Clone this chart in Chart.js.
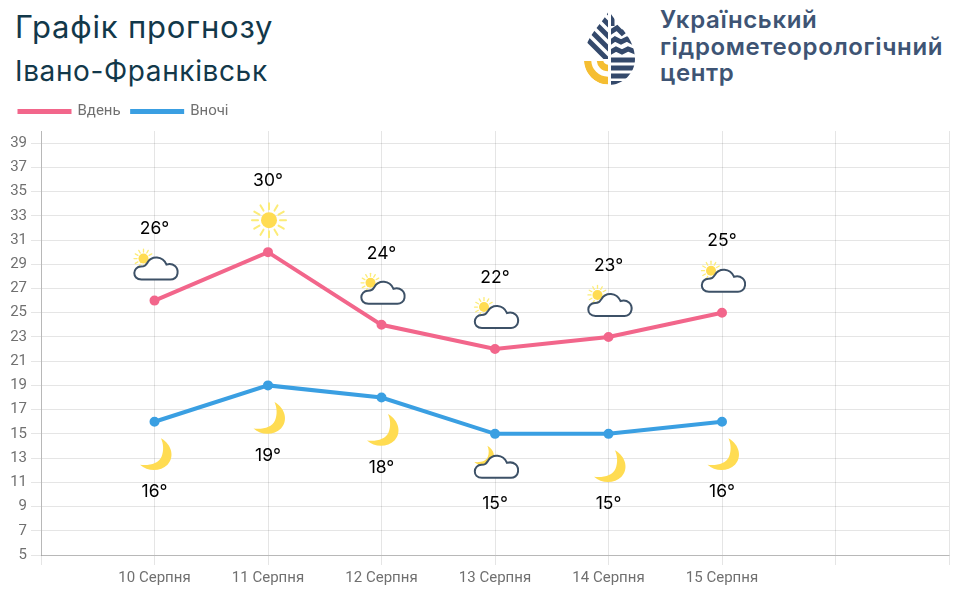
<!DOCTYPE html>
<html lang="uk">
<head>
<meta charset="utf-8">
<title>Графік прогнозу</title>
<script src="https://cdn.jsdelivr.net/npm/chart.js@4"></script>
<style>
html,body{margin:0;padding:0;background:#fff;width:957px;height:611px;overflow:hidden}
.t{position:absolute;white-space:nowrap;font-family:Inter,"Noto Sans",sans-serif;color:#12384a;line-height:1}
#t1{left:15px;top:11px;font-size:31px;font-weight:400;letter-spacing:.8px}
#t2{left:15px;top:57px;font-size:28px;font-weight:400;letter-spacing:.62px}
.l{left:660px;font-size:24px;font-weight:600;color:#3e5474;letter-spacing:.65px}
#logo{position:absolute;left:0;top:0}
#wrap{position:absolute;left:8px;top:93px;width:949px;height:506px}
</style>
</head>
<body>
<div class="t" id="t1">Графік прогнозу</div>
<div class="t" id="t2">Івано-Франківськ</div>
<div class="t l" style="top:8px">Український</div>
<div class="t l" style="top:35px">гідрометеорологічний</div>
<div class="t l" style="top:61px">центр</div>
<svg id="logo" width="957" height="95" viewBox="0 0 957 95">
<defs>
<clipPath id="drop"><path d="M609 11C600 26 584 38 584 59C584 74 596 85 609 85C622 85 635 74 635 59C635 38 618 26 609 11Z"/></clipPath>
<clipPath id="lt"><rect x="580" y="8" width="28" height="51"/></clipPath>
<clipPath id="lb"><rect x="580" y="61" width="28" height="26"/></clipPath>
<clipPath id="rt"><rect x="611" y="8" width="28" height="80"/></clipPath>
</defs>
<g clip-path="url(#drop)">
<g clip-path="url(#lt)" stroke="#34496b" stroke-width="5" fill="none">
<path d="M568 -28L613 17M568 -16L613 29M568 -4L613 41M568 8L613 53M568 20L613 65"/>
</g>
<g clip-path="url(#lb)" stroke="#f5be32" fill="none">
<circle cx="608" cy="60" r="20.5" stroke-width="7.5"/>
<circle cx="608" cy="60" r="8" stroke-width="6.5"/>
</g>
<g clip-path="url(#rt)" stroke="#34496b" fill="none">
<path d="M611 12L611 26" stroke-width="7"/>
<path d="M609 33L617 28L622 33L627 29L634 35" stroke-width="5"/>
<path d="M609 43L615 39L621 42L627 39L636 44" stroke-width="5"/>
<path d="M609 53L616 49L622 52L628 49L638 53" stroke-width="5"/>
<path d="M609 60H638M609 68H638M609 76H638M609 83.5H638" stroke-width="5"/>
</g>
</g>
</svg>
<div id="wrap"><canvas id="c"></canvas></div>
<script>
const categories = ['', '10 Серпня', '11 Серпня', '12 Серпня', '13 Серпня', '14 Серпня', '15 Серпня', '', ''];
const dayValues = [null, 26, 30, 24, 22, 23, 25, null, null];
const nightValues = [null, 16, 19, 18, 15, 15, 16, null, null];
const dayIcons = [null, 'sunCloud', 'sun', 'sunCloud', 'sunCloud', 'sunCloud', 'sunCloud', null, null];
const nightIcons = [null, 'moon', 'moon', 'moon', 'moonCloud', 'moon', 'moon', null, null];
const seriesNames = ['Вдень', 'Вночі'];
const yTicks = [5, 7, 9, 11, 13, 15, 17, 19, 21, 23, 25, 27, 29, 31, 33, 35, 37, 39];

const PINK = '#f2668b', BLUE = '#3a9fe2', SUN = '#ffdc52', RAY = '#fcec78', CLOUD = '#3d5167';

function sun(ctx, x, y, r, rayIn, rayOut, w, n) {
  ctx.save();
  ctx.strokeStyle = RAY; ctx.lineWidth = w; ctx.lineCap = 'round';
  for (let i = 0; i < n; i++) {
    const a = i * 2 * Math.PI / n;
    ctx.beginPath();
    ctx.moveTo(x + Math.cos(a) * rayIn, y + Math.sin(a) * rayIn);
    ctx.lineTo(x + Math.cos(a) * rayOut, y + Math.sin(a) * rayOut);
    ctx.stroke();
  }
  ctx.fillStyle = SUN;
  ctx.beginPath(); ctx.arc(x, y, r, 0, Math.PI * 2); ctx.fill();
  ctx.restore();
}
function moon(ctx, x, y, s) {
  ctx.save();
  ctx.translate(x, y); ctx.scale(s, s);
  ctx.fillStyle = SUN;
  ctx.beginPath();
  ctx.moveTo(5.5, -16.5);
  ctx.bezierCurveTo(17, -10, 19, 3, 12, 10);
  ctx.bezierCurveTo(5, 17, -8, 17, -15.5, 10);
  ctx.bezierCurveTo(-6, 11, 3, 9, 6, 2);
  ctx.bezierCurveTo(8.5, -4, 8, -11, 5.5, -16.5);
  ctx.closePath(); ctx.fill();
  ctx.restore();
}
function cloud(ctx, x, y) {
  ctx.save();
  ctx.translate(x, y);
  ctx.strokeStyle = CLOUD; ctx.fillStyle = '#fff'; ctx.lineWidth = 2;
  ctx.beginPath();
  ctx.moveTo(-14, 11);
  ctx.bezierCurveTo(-24, 11, -23, -2, -14.5, -2);
  ctx.bezierCurveTo(-11, -2, -10, -3, -8, -6);
  ctx.bezierCurveTo(-4, -13, 7, -13, 11, -4);
  ctx.bezierCurveTo(18, -6, 23, -1, 22, 5);
  ctx.bezierCurveTo(21.5, 9, 18, 11, 15, 11);
  ctx.closePath();
  ctx.fill(); ctx.stroke();
  ctx.restore();
}
function drawIcon(ctx, kind, x, y) {
  if (kind === 'sun') sun(ctx, x, y, 8, 11, 17, 2, 12);
  else if (kind === 'moon') moon(ctx, x, y, 1);
  else if (kind === 'sunCloud') {
    sun(ctx, x - 12, y - 10, 5, 6.5, 9.5, 1.3, 12);
    cloud(ctx, x, y);
  } else if (kind === 'moonCloud') {
    moon(ctx, x - 12, y - 11, 0.62);
    cloud(ctx, x, y);
  }
}
const iconPlugin = {
  id: 'weatherIcons',
  afterDatasetsDraw(chart) {
    const ctx = chart.ctx;
    const spec = [
      { i: 0, icons: dayIcons, vals: dayValues, iconDy: -32, textDy: -71.5 },
      { i: 1, icons: nightIcons, vals: nightValues, iconDy: 33, textDy: 70 }
    ];
    spec.forEach(s => {
      chart.getDatasetMeta(s.i).data.forEach((el, k) => {
        if (s.vals[k] == null) return;
        drawIcon(ctx, s.icons[k], el.x + 1, el.y + s.iconDy);
        ctx.save();
        ctx.fillStyle = '#000';
        ctx.font = '400 17.5px Inter, "Noto Sans", sans-serif';
        ctx.textAlign = 'center'; ctx.textBaseline = 'middle';
        ctx.fillText(s.vals[k] + '°', el.x, el.y + s.textDy);
        ctx.restore();
      });
    });
  }
};
const legendGap = {
  id: 'legendGap',
  beforeLayout(chart) {
    const l = chart.legend;
    if (l && !l._gap) {
      const f = l.fit;
      l.fit = function () { f.call(this); this.height = 38; };
      l._gap = true;
    }
  }
};
new Chart(document.getElementById('c'), {
  type: 'line',
  data: {
    labels: categories,
    datasets: [
      { label: seriesNames[0], data: dayValues, borderColor: PINK, backgroundColor: PINK, borderWidth: 4, pointRadius: 3, pointBackgroundColor: PINK, pointBorderColor: PINK, fill: false, tension: 0 },
      { label: seriesNames[1], data: nightValues, borderColor: BLUE, backgroundColor: BLUE, borderWidth: 4, pointRadius: 3, pointBackgroundColor: BLUE, pointBorderColor: BLUE, fill: false, tension: 0 }
    ]
  },
  plugins: [iconPlugin, legendGap],
  options: {
    responsive: true, maintainAspectRatio: false, animation: false,
    layout: { padding: { left: 0, right: 6, top: 0, bottom: 0 } },
    plugins: {
      tooltip: { enabled: false },
      legend: {
        position: 'top', align: 'start',
        labels: {
          boxWidth: 51, boxHeight: 2, padding: 11, color: '#707070',
          font: { family: 'Roboto', size: 15 },
          generateLabels(chart) {
            return Chart.defaults.plugins.legend.labels.generateLabels(chart).map(i => Object.assign(i, { lineWidth: 3 }));
          }
        }
      }
    },
    scales: {
      x: {
        grid: { color: 'rgba(0,0,0,.1)', tickLength: 10 },
        border: { color: 'rgba(0,0,0,.2)' },
        ticks: { color: '#707070', font: { family: 'Roboto', size: 15 }, padding: 4, maxRotation: 0, autoSkip: false },
        afterFit(s) { s.height = 44; }
      },
      y: {
        min: 5, max: 40,
        grid: { color: 'rgba(0,0,0,.1)', tickLength: 10 },
        border: { color: 'rgba(0,0,0,.2)' },
        ticks: { color: '#707070', font: { family: 'Roboto', size: 15 }, padding: 4, autoSkip: false },
        afterBuildTicks(s) { s.ticks = yTicks.map(value => ({ value })); },
        afterFit(s) { s.width = 33; }
      }
    }
  }
});
</script>
</body>
</html>
